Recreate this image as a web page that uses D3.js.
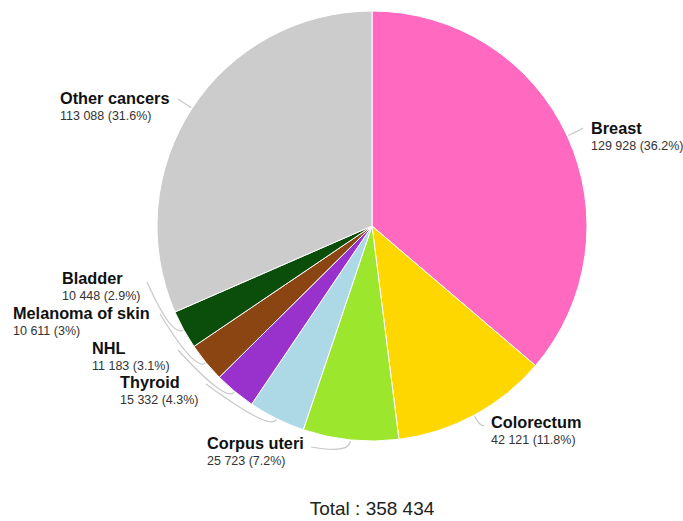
<!DOCTYPE html>
<html>
<head>
<meta charset="utf-8">
<script src="https://cdn.jsdelivr.net/npm/d3@7"></script>
<style>
  html, body { margin: 0; padding: 0; background: #fff; }
  svg { display: block; font-family: "Liberation Sans", Arial, sans-serif; }
</style>
</head>
<body>
<svg id="chart" width="683" height="521"></svg>
<script>
// Cancer incidence by site (women)
const sites = ["Breast", "Colorectum", "Corpus uteri", "Thyroid", "NHL",
               "Melanoma of skin", "Bladder", "Other cancers"];
const cases = [129928, 42121, 25723, 15332, 11183, 10611, 10448, 113088];
const percents = ["36.2%", "11.8%", "7.2%", "4.3%", "3.1%", "3%", "2.9%", "31.6%"];
const colors = ["#ff69c0", "#ffd700", "#9de62e", "#add8e6", "#9932cc",
                "#8b4513", "#0b4d0b", "#cccccc"];

// Label placement: text anchor (left x, name baseline) and leader start point
const labelLayout = {
  "Breast":           { x: 591, y: 134, lx: 583, ly: 128 },
  "Colorectum":       { x: 491, y: 428, lx: 484, ly: 425 },
  "Corpus uteri":     { x: 207, y: 449, lx: 311, ly: 447 },
  "Thyroid":          { x: 120, y: 388, lx: 206, ly: 384 },
  "NHL":              { x: 92,  y: 354, lx: 178, ly: 350 },
  "Melanoma of skin": { x: 13,  y: 319, lx: 160, ly: 314 },
  "Bladder":          { x: 62,  y: 284, lx: 147, ly: 282 },
  "Other cancers":    { x: 60,  y: 104, lx: 178, ly: 99 }
};

const fmt = n => d3.format(",")(n).replace(/,/g, " ");
const total = d3.sum(cases);

const svg = d3.select("#chart");
const cx = 372, cy = 226, R = 215;

const data = sites.map((s, i) => ({ site: s, value: cases[i], pct: percents[i], color: colors[i] }));

const pie = d3.pie().value(d => d.value).sort(null);
const arcs = pie(data);
const arc = d3.arc().innerRadius(0).outerRadius(R);

const g = svg.append("g").attr("transform", `translate(${cx},${cy})`);

g.selectAll("path.slice")
  .data(arcs)
  .join("path")
  .attr("class", "slice")
  .attr("d", arc)
  .attr("fill", d => d.data.color)
  .attr("stroke", "#fff")
  .attr("stroke-width", 1);

// Leader lines: curved from the label to the slice edge at its mid-angle
const edgeArc = d3.arc().innerRadius(R + 1).outerRadius(R + 1);
const outArc = d3.arc().innerRadius(R + 14).outerRadius(R + 14);

svg.append("g")
  .selectAll("path.leader")
  .data(arcs)
  .join("path")
  .attr("class", "leader")
  .attr("fill", "none")
  .attr("stroke", "#c8c8c8")
  .attr("stroke-width", 1.2)
  .attr("d", d => {
    const L = labelLayout[d.data.site];
    const p = edgeArc.centroid(d);
    const c = outArc.centroid(d);
    const cpx = c[0] + cx, cpy = c[1] + cy;
    return `M${L.lx},${L.ly} Q${cpx},${cpy} ${p[0] + cx},${p[1] + cy}`;
  });

// Labels
const labels = svg.append("g")
  .selectAll("g.label")
  .data(arcs)
  .join("g")
  .attr("class", "label");

labels.append("text")
  .attr("x", d => labelLayout[d.data.site].x)
  .attr("y", d => labelLayout[d.data.site].y)
  .attr("font-size", 16.3)
  .attr("font-weight", "bold")
  .attr("fill", "#111")
  .text(d => d.data.site);

labels.append("text")
  .attr("x", d => labelLayout[d.data.site].x)
  .attr("y", d => labelLayout[d.data.site].y + 16)
  .attr("font-size", 12.5)
  .attr("fill", "#333")
  .text(d => `${fmt(d.data.value)} (${d.data.pct})`);

svg.append("text")
  .attr("x", cx)
  .attr("y", 515)
  .attr("text-anchor", "middle")
  .attr("font-size", 19)
  .attr("fill", "#222")
  .text(`Total : ${fmt(total)}`);
</script>
</body>
</html>
